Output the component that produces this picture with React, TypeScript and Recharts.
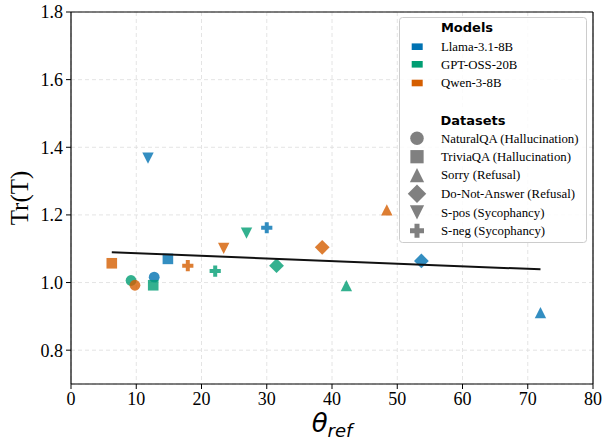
import React from 'react';
import {
  ScatterChart,
  Scatter,
  XAxis,
  YAxis,
  CartesianGrid,
  ReferenceLine,
} from 'recharts';

// Categories
const models = ['Llama-3.1-8B', 'GPT-OSS-20B', 'Qwen-3-8B'];
const datasets = [
  'NaturalQA (Hallucination)',
  'TriviaQA (Hallucination)',
  'Sorry (Refusal)',
  'Do-Not-Answer (Refusal)',
  'S-pos (Sycophancy)',
  'S-neg (Sycophancy)',
];

// Per-model values, in the same order as `datasets`
const llamaTheta = [12.75, 14.85, 71.95, 53.7, 11.8, 30.0];
const llamaTr = [1.016, 1.07, 0.911, 1.064, 1.368, 1.162];
const gptTheta = [9.2, 12.6, 42.2, 31.5, 26.9, 22.1];
const gptTr = [1.006, 0.992, 0.991, 1.05, 1.146, 1.034];
const qwenTheta = [9.8, 6.25, 48.4, 38.5, 23.4, 17.9];
const qwenTr = [0.992, 1.057, 1.215, 1.104, 1.101, 1.05];

// Fitted trend line endpoints
const trendTheta = [6.25, 71.95];
const trendTr = [1.0898, 1.039];

// Axis ticks
const xTicks = [0, 10, 20, 30, 40, 50, 60, 70, 80];
const yTicks = [0.8, 1.0, 1.2, 1.4, 1.6, 1.8];

const modelColors = ['#0072B2', '#009E73', '#D55E00'];
const markerKinds = ['circle', 'square', 'triangleUp', 'diamond', 'triangleDown', 'plus'];

const build = (theta: number[], tr: number[]) =>
  theta.map((t, i) => ({ theta: t, tr: tr[i], dataset: datasets[i] }));

const seriesData = [
  build(llamaTheta, llamaTr),
  build(gptTheta, gptTr),
  build(qwenTheta, qwenTr),
];
const trendData = trendTheta.map((t, i) => ({ theta: t, tr: trendTr[i] }));

function Glyph({
  kind,
  cx,
  cy,
  fill,
  opacity = 1,
  scale = 1,
}: {
  kind: string;
  cx: number;
  cy: number;
  fill: string;
  opacity?: number;
  scale?: number;
}) {
  const s = scale;
  switch (kind) {
    case 'circle':
      return <circle cx={cx} cy={cy} r={5.4 * s} fill={fill} fillOpacity={opacity} />;
    case 'square': {
      const h = 5.3 * s;
      return <rect x={cx - h} y={cy - h} width={2 * h} height={2 * h} fill={fill} fillOpacity={opacity} />;
    }
    case 'triangleUp': {
      const h = 5.7 * s;
      return (
        <polygon
          points={`${cx},${cy - h} ${cx - h},${cy + h} ${cx + h},${cy + h}`}
          fill={fill}
          fillOpacity={opacity}
        />
      );
    }
    case 'triangleDown': {
      const h = 5.7 * s;
      return (
        <polygon
          points={`${cx},${cy + h} ${cx - h},${cy - h} ${cx + h},${cy - h}`}
          fill={fill}
          fillOpacity={opacity}
        />
      );
    }
    case 'diamond': {
      const h = 7.4 * s;
      return (
        <polygon
          points={`${cx},${cy - h} ${cx + h},${cy} ${cx},${cy + h} ${cx - h},${cy}`}
          fill={fill}
          fillOpacity={opacity}
        />
      );
    }
    case 'plus': {
      const a = 5.6 * s;
      const w = 2.0 * s;
      const p = [
        [-w, -a], [w, -a], [w, -w], [a, -w], [a, w], [w, w],
        [w, a], [-w, a], [-w, w], [-a, w], [-a, -w], [-w, -w],
      ]
        .map(([x, y]) => `${cx + x},${cy + y}`)
        .join(' ');
      return <polygon points={p} fill={fill} fillOpacity={opacity} />;
    }
    default:
      return null;
  }
}

const makeShape = (color: string) => (props: any) => {
  const { cx, cy, payload } = props;
  const kind = markerKinds[datasets.indexOf(payload.dataset)];
  return <Glyph kind={kind} cx={cx} cy={cy} fill={color} opacity={0.8} />;
};

const serif = '"Liberation Serif", "Times New Roman", serif';
const sans = '"DejaVu Sans", sans-serif';

function XLabel(props: any) {
  const vb = props.viewBox || { x: 71, y: 384, width: 522, height: 58 };
  const cx = vb.x + vb.width / 2;
  return (
    <text x={cx} y={432} textAnchor="middle" fill="#000">
      <tspan fontFamily={sans} fontStyle="italic" fontSize={26}>θ</tspan>
      <tspan fontFamily={sans} fontStyle="italic" fontSize={18} dy={4.5}>ref</tspan>
    </text>
  );
}

function YLabel(props: any) {
  const vb = props.viewBox || { x: 0, y: 12, width: 71, height: 372 };
  const cy = vb.y + vb.height / 2;
  return (
    <text
      x={28}
      y={cy}
      transform={`rotate(-90, 28, ${cy})`}
      textAnchor="middle"
      fontFamily={serif}
      fontSize={25}
      fill="#000"
    >
      Tr(T)
    </text>
  );
}

function LegendBox() {
  const itemX = 441;
  const markX = 417;
  const modelRows = [46.7, 64.3, 83];
  const dataRows = [138.3, 156.7, 175, 193.7, 212.3, 230.7];
  return (
    <svg
      width={605}
      height={442}
      style={{ position: 'absolute', left: 0, top: 0, pointerEvents: 'none' }}
    >
      <rect
        x={399.5}
        y={17.5}
        width={187}
        height={225}
        rx={3}
        ry={3}
        fill="#ffffff"
        fillOpacity={0.85}
        stroke="#cccccc"
        strokeWidth={1}
      />
      <text x={467} y={31.7} textAnchor="middle" fontFamily={sans} fontWeight="bold" fontSize={13} fill="#000">
        Models
      </text>
      {models.map((m, i) => (
        <g key={m}>
          <rect x={411.7} y={modelRows[i] - 3.3} width={11} height={6.6} fill={modelColors[i]} />
          <text x={itemX} y={modelRows[i] + 4.3} fontFamily={serif} fontSize={12.8} fill="#000">
            {m}
          </text>
        </g>
      ))}
      <text x={473} y={125} textAnchor="middle" fontFamily={sans} fontWeight="bold" fontSize={13} fill="#000">
        Datasets
      </text>
      {datasets.map((d, i) => (
        <g key={d}>
          <Glyph kind={markerKinds[i]} cx={markX} cy={dataRows[i]} fill="#808080" scale={1.25} />
          <text x={itemX} y={dataRows[i] + 4.3} fontFamily={serif} fontSize={12.8} fill="#000">
            {d}
          </text>
        </g>
      ))}
    </svg>
  );
}

export default function App() {
  return (
    <div style={{ position: 'absolute', left: 0, top: 0, width: 605, height: 442, background: '#fff' }}>
      <ScatterChart
        width={605}
        height={442}
        margin={{ top: 12, right: 12, bottom: 0, left: 0 }}
      >
        <CartesianGrid stroke="#dddddd" strokeDasharray="4 3" strokeWidth={0.8} />
        <XAxis
          type="number"
          dataKey="theta"
          domain={[0, 80]}
          ticks={xTicks}
          allowDataOverflow
          height={58}
          tickSize={5}
          tickMargin={3}
          stroke="#000"
          axisLine={{ stroke: '#000', strokeWidth: 1.2 }}
          tickLine={{ stroke: '#000' }}
          tick={{ fontFamily: serif, fontSize: 18, fill: '#000' }}
          label={{ content: (p: any) => <XLabel {...p} /> }}
        />
        <YAxis
          type="number"
          dataKey="tr"
          domain={[0.7, 1.8]}
          ticks={yTicks}
          allowDataOverflow
          width={71}
          tickSize={5}
          tickMargin={3}
          stroke="#000"
          axisLine={{ stroke: '#000', strokeWidth: 1.2 }}
          tickLine={{ stroke: '#000' }}
          tickFormatter={(v: number) => v.toFixed(1)}
          tick={{ fontFamily: serif, fontSize: 18, fill: '#000' }}
          label={{ content: (p: any) => <YLabel {...p} /> }}
        />
        <ReferenceLine y={1.8} stroke="#000" strokeWidth={1.2} />
        <ReferenceLine x={80} stroke="#000" strokeWidth={1.2} />
        {models.map((m, i) => (
          <Scatter
            key={m}
            name={m}
            data={seriesData[i]}
            shape={makeShape(modelColors[i])}
            isAnimationActive={false}
          />
        ))}
        <Scatter
          name="trend"
          data={trendData}
          line={{ stroke: '#111', strokeWidth: 2 }}
          shape={() => <g />}
          isAnimationActive={false}
        />
      </ScatterChart>
      <LegendBox />
    </div>
  );
}
